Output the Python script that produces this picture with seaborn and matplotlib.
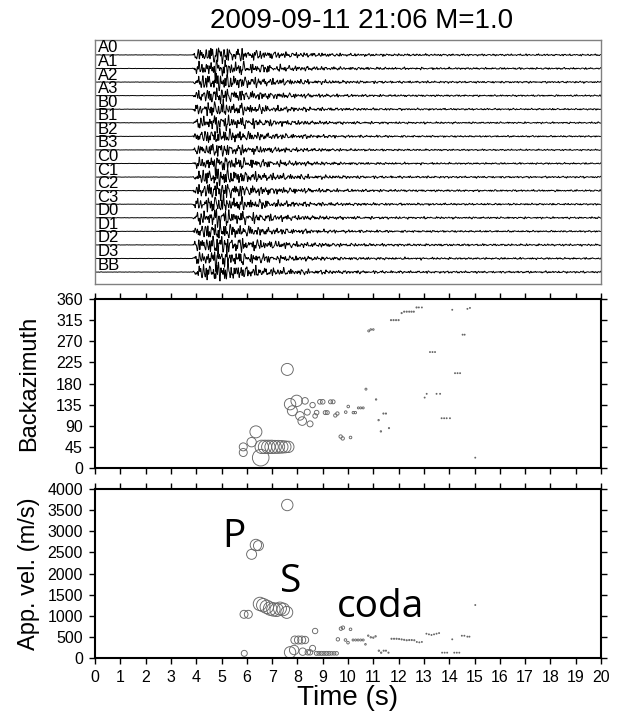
import numpy as np
import pandas as pd
import matplotlib
matplotlib.use("Agg")
import matplotlib.pyplot as plt
import seaborn as sns

# ---------------- data ----------------
title = "2009-09-11 21:06 M=1.0"
stations = ["A0", "A1", "A2", "A3", "B0", "B1", "B2", "B3",
            "C0", "C1", "C2", "C3", "D0", "D1", "D2", "D3", "BB"]
# rms envelope of the traces (fraction of trace spacing)
env_t = [0.0, 3.85, 3.95, 4.3, 4.7, 4.85, 5.1, 5.6, 6.2, 7.0, 8.0, 9.0, 10.0, 12.0, 15.0, 20.0]
env_a = [0.006, 0.006, 0.13, 0.24, 0.29, 0.34, 0.27, 0.22, 0.17, 0.12, 0.085, 0.062, 0.047, 0.036, 0.03, 0.028]
trace_gain = [1.0, 1.0, 1.0, 0.9, 0.9, 0.9, 0.85, 0.8, 0.9, 1.0, 1.0, 1.0, 1.0, 0.95, 1.1, 1.0, 1.1]

baz_t = [5.86, 5.86, 6.19, 6.36, 6.55,
         6.59, 6.72, 6.85, 6.98, 7.11, 7.24, 7.38, 7.51, 7.64,
         7.60, 7.71, 7.80, 7.97, 8.30, 8.10, 8.19, 8.39, 8.50, 8.60, 8.70, 8.76, 8.89, 9.00,
         9.10, 9.18, 9.31, 9.41, 9.50, 9.58, 9.71, 9.79, 9.91, 10.01, 10.10, 10.21, 10.29,
         10.41, 10.50, 10.60, 10.71, 10.82, 10.90, 11.00, 11.11, 11.21, 11.30, 11.40, 11.50,
         11.62, 11.70, 11.80, 11.90, 12.00, 12.12, 12.22, 12.32, 12.42, 12.51, 12.60, 12.71,
         12.80, 12.92, 13.03, 13.11, 13.24, 13.34, 13.44, 13.50, 13.64, 13.70, 13.80, 13.90,
         14.03, 14.12, 14.23, 14.33, 14.43, 14.53, 14.61, 14.72, 14.82, 15.03]
baz_deg = [45, 33, 55, 77, 22,
           45, 45, 45, 45, 45, 45, 45, 45, 45,
           210, 136, 122, 143, 143, 111, 100, 119, 94, 134, 111, 118, 141, 141,
           118, 118, 141, 141, 112, 116, 67, 63, 119, 131, 65, 118, 118,
           128, 128, 128, 168, 292, 295, 295, 146, 102, 78, 116, 116,
           85, 315, 315, 315, 315, 330, 333, 333, 333, 333, 333, 342,
           342, 342, 150, 158, 247, 247, 247, 158, 158, 106, 106, 106,
           106, 337, 202, 202, 202, 284, 284, 339, 341, 22]
baz_power = [4.0, 4.0, 4.7, 6.0, 8.3,
             6.7, 6.7, 6.7, 6.7, 6.5, 6.5, 6.3, 6.0, 5.7,
             6.0, 5.7, 5.0, 5.7, 3.3, 4.3, 4.3, 3.0, 3.0, 2.7, 2.3, 2.3, 2.3, 2.3,
             2.0, 2.0, 2.0, 2.0, 1.7, 1.7, 1.7, 1.7, 1.3, 1.3, 1.3, 1.2, 1.2,
             1.0, 1.0, 1.0, 1.0, 1.0, 0.8, 0.8, 0.7, 0.7, 0.7, 0.6, 0.6,
             0.6, 0.6, 0.6, 0.6, 0.6, 0.6, 0.6, 0.6, 0.6, 0.6, 0.6, 0.6,
             0.5, 0.5, 0.5, 0.5, 0.5, 0.5, 0.5, 0.5, 0.5, 0.5, 0.5, 0.5,
             0.5, 0.5, 0.5, 0.5, 0.5, 0.5, 0.5, 0.5, 0.5, 0.5]

vel_t = [5.89, 6.06, 5.90, 6.19, 6.36, 6.46,
         6.52, 6.65, 6.79, 6.92, 7.05, 7.18, 7.31, 7.44, 7.58,
         7.60, 7.71, 7.87, 7.90, 8.04, 8.17, 8.30, 8.21, 8.41, 8.50, 8.60, 8.70,
         8.75, 8.85, 8.95, 9.05, 9.15, 9.25, 9.35, 9.45, 9.55,
         9.60, 9.72, 9.80, 9.90, 10.00, 10.10, 10.20, 10.30, 10.40, 10.50, 10.60,
         10.69, 10.80, 10.90, 11.00, 11.09, 11.22, 11.31, 11.41, 11.50, 11.60,
         11.72, 11.82, 11.92, 12.02, 12.12, 12.22, 12.32, 12.42, 12.52, 12.62, 12.72, 12.82, 12.92,
         13.10, 13.20, 13.30, 13.40, 13.50, 13.60,
         13.72, 13.82, 13.92, 14.12, 14.20, 14.30, 14.40, 14.50, 14.60, 14.72, 14.80, 15.03]
vel_ms = [1034, 1034, 110, 2454, 2675, 2659,
          1280, 1250, 1210, 1170, 1150, 1140, 1170, 1150, 1080,
          3621, 134, 189, 426, 426, 426, 426, 150, 134, 134, 229, 639,
          110, 110, 110, 110, 110, 110, 110, 110, 110,
          442, 694, 718, 426, 363, 679, 426, 426, 426, 426, 426,
          324, 529, 490, 482, 513, 173, 126, 173, 173, 126,
          455, 455, 455, 450, 440, 430, 420, 425, 425, 420, 380, 370, 380,
          575, 560, 545, 560, 575, 590,
          126, 126, 126, 442, 126, 126, 126, 527, 527, 505, 505, 1254]
vel_power = [4.0, 4.0, 3.0, 5.0, 5.7, 5.0,
             6.7, 6.7, 6.7, 6.7, 6.7, 6.7, 6.5, 6.3, 6.0,
             5.7, 5.7, 4.7, 4.0, 4.0, 4.0, 3.7, 3.7, 2.7, 2.7, 3.0, 2.7,
             2.0, 2.0, 2.0, 2.0, 2.0, 2.0, 1.8, 1.8, 1.8,
             1.7, 1.7, 1.7, 1.3, 1.3, 1.3, 1.0, 1.0, 1.0, 1.0, 1.0,
             0.8, 0.7, 0.7, 0.7, 0.7, 0.7, 0.7, 0.6, 0.6, 0.6,
             0.6, 0.6, 0.6, 0.6, 0.6, 0.6, 0.6, 0.6, 0.6, 0.6, 0.5, 0.5, 0.5,
             0.5, 0.5, 0.5, 0.5, 0.5, 0.5,
             0.5, 0.5, 0.5, 0.5, 0.5, 0.5, 0.5, 0.5, 0.5, 0.5, 0.5, 0.5]

phase_labels = [("P", 5.04, 2635), ("S", 7.32, 1570), ("coda", 9.58, 978)]
x_ticks = list(range(0, 21))
baz_ticks = list(range(0, 361, 45))
vel_ticks = list(range(0, 4001, 500))

# ---------------- style ----------------
sns.set_style("white")
plt.rcParams["font.family"] = ["Liberation Sans", "DejaVu Sans"]
plt.rcParams["text.color"] = "black"
plt.rcParams["axes.labelcolor"] = "black"

W, H = 621, 722
fig = plt.figure(figsize=(W / 100, H / 100), dpi=100)
ax0 = fig.add_axes([95 / W, 1 - 284 / H, 506 / W, 244 / H])
ax1 = fig.add_axes([95 / W, 1 - 468 / H, 506 / W, 169 / H])
ax2 = fig.add_axes([95 / W, 1 - 658 / H, 506 / W, 169 / H])

# ---------------- seismograms ----------------
t = np.arange(0, 20.0001, 0.01)
freqs = [2.7, 3.9, 5.3, 6.8, 8.1, 9.7, 11.6, 13.9, 16.3]
for i, name in enumerate(stations):
    env = np.interp(t, env_t, env_a) * trace_gain[i]
    carrier = sum(np.sin(2 * np.pi * f * (1 + 0.011 * ((i * 5 + k * 3) % 7)) * t
                         + ((i * 7 + k * 11) % 17) * 0.37)
                  for k, f in enumerate(freqs))
    carrier = carrier / carrier.std()
    sns.lineplot(x=t, y=-i + env * carrier, ax=ax0, color="k", lw=0.7,
                 estimator=None, sort=False)
    ax0.text(0.1, -i + 0.18, name, fontsize=12, va="baseline", ha="left")
ax0.set_xlim(0, 20)
ax0.set_ylim(-16.88, 1.1)
ax0.set_xticks([])
ax0.set_yticks([])
for s in ax0.spines.values():
    s.set_color("#808080")
    s.set_linewidth(1.0)

# ---------------- scatter panels ----------------
rmin, rmax = 0.5, 8.3
k_area = (2 * 0.72) ** 2


def circles(ax, xs, ys, rs):
    df = pd.DataFrame({"t": xs, "v": ys, "r2": np.asarray(rs) ** 2})
    sns.scatterplot(data=df, x="t", y="v", size="r2",
                    sizes=(k_area * rmin ** 2, k_area * rmax ** 2),
                    size_norm=(rmin ** 2, rmax ** 2), legend=False, ax=ax)
    coll = ax.collections[-1]
    coll.set_facecolor("none")
    coll.set_edgecolor("#666666")
    coll.set_linewidth(0.65)


circles(ax1, baz_t, baz_deg, baz_power)
circles(ax2, vel_t, vel_ms, vel_power)

for ax, yt, lim in [(ax1, baz_ticks, 360), (ax2, vel_ticks, 4000)]:
    ax.set_xlim(0, 20)
    ax.set_ylim(0, lim)
    ax.set_xticks(x_ticks)
    ax.set_yticks(yt)
    ax.tick_params(direction="out", length=4.3, width=1.0, colors="k",
                   bottom=True, left=True, top=True, right=True,
                   labelsize=11.5, pad=4.5)
    for s in ax.spines.values():
        s.set_color("k")
        s.set_linewidth(1.5)
    ax.set_xlabel("")

ax1.tick_params(labelbottom=False)
ax1.set_ylabel("Backazimuth", fontsize=17)
ax2.set_ylabel("App. vel. (m/s)", fontsize=17)
ax1.yaxis.set_label_coords(-0.109, 0.5)
ax2.yaxis.set_label_coords(-0.109, 0.5)
ax2.set_xlabel("Time (s)", fontsize=20, va="top")
ax2.xaxis.set_label_coords(0.5, -0.16)

for txt, x, y in phase_labels:
    ax2.text(x, y, txt, fontsize=28, family=["Open Sans", "DejaVu Sans"],
             va="baseline", ha="left", color="k")

fig.text(362 / W, 1 - 28 / H, title, fontsize=20, ha="center", va="baseline")

fig.savefig("out.png", dpi=100)
